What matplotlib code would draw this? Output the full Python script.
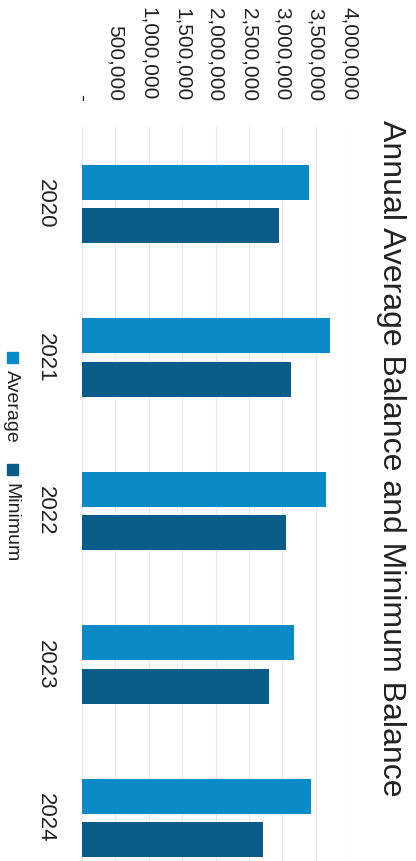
import matplotlib
matplotlib.use("Agg")
import matplotlib.pyplot as plt
from matplotlib.patches import Rectangle
from matplotlib.ticker import FuncFormatter
import numpy as np

plt.rcParams['font.family'] = ['Liberation Sans', 'DejaVu Sans']

years = ['2020', '2021', '2022', '2023', '2024']
average = [3405000, 3720000, 3655000, 3180000, 3425000]
minimum = [2950000, 3130000, 3055000, 2805000, 2705000]
series_names = ['Average', 'Minimum']
colors = ['#0a8bc8', '#0b5d89']
ticks = [0, 500000, 1000000, 1500000, 2000000, 2500000, 3000000, 3500000, 4000000]

W, H = 416, 861
fig = plt.figure(figsize=(W / 100, H / 100), dpi=100)
# chart is drawn rotated 90 deg clockwise
ax = fig.add_axes([82 / W, 1 - 894.75 / H, 267 / W, 767.5 / H])

pos = np.arange(len(years))
bh = 0.228
off = 0.143
ax.barh(pos - off, average, height=bh, color=colors[0], zorder=3)
ax.barh(pos + off, minimum, height=bh, color=colors[1], zorder=3)

ax.set_xlim(0, 4000000)
ax.set_ylim(len(years) - 0.5, -0.5)
ax.set_xticks(ticks)
ax.xaxis.set_major_formatter(FuncFormatter(lambda v, p: '-' if v == 0 else f'{int(v):,}'))
ax.xaxis.tick_top()
ax.tick_params(axis='x', length=0, pad=19, labelsize=15, labelcolor='#222222')
for lab in ax.get_xticklabels():
    lab.set_rotation(-90)
    lab.set_va('bottom')
    lab.set_ha('center')

ax.set_yticks(pos)
ax.set_yticklabels(years)
ax.tick_params(axis='y', length=0, pad=19, labelsize=16, labelcolor='#222222')
for lab in ax.get_yticklabels():
    lab.set_rotation(-90)
    lab.set_va('center')

ax.grid(axis='x', color='#e8e8e8', linewidth=0.8, zorder=0)
ax.grid(axis='y', visible=False)
for s in ax.spines.values():
    s.set_visible(False)

fig.text(391 / W, 1 - 458 / H, 'Annual Average Balance and Minimum Balance',
         rotation=-90, ha='center', va='center', fontsize=23, color='#222222')

# legend drawn by hand so it can be rotated
leg_marker_y = [352, 464]
leg_text_y = [370, 483]
for name, c, my, ty in zip(series_names, colors, leg_marker_y, leg_text_y):
    fig.patches.append(Rectangle((7 / W, 1 - (my + 11) / H), 11 / W, 11 / H,
                                 transform=fig.transFigure, color=c, figure=fig))
    fig.text(11 / W, 1 - ty / H, name, rotation=-90, ha='center', va='top',
             fontsize=14, color='#222222')

fig.savefig('out.png', dpi=100)
